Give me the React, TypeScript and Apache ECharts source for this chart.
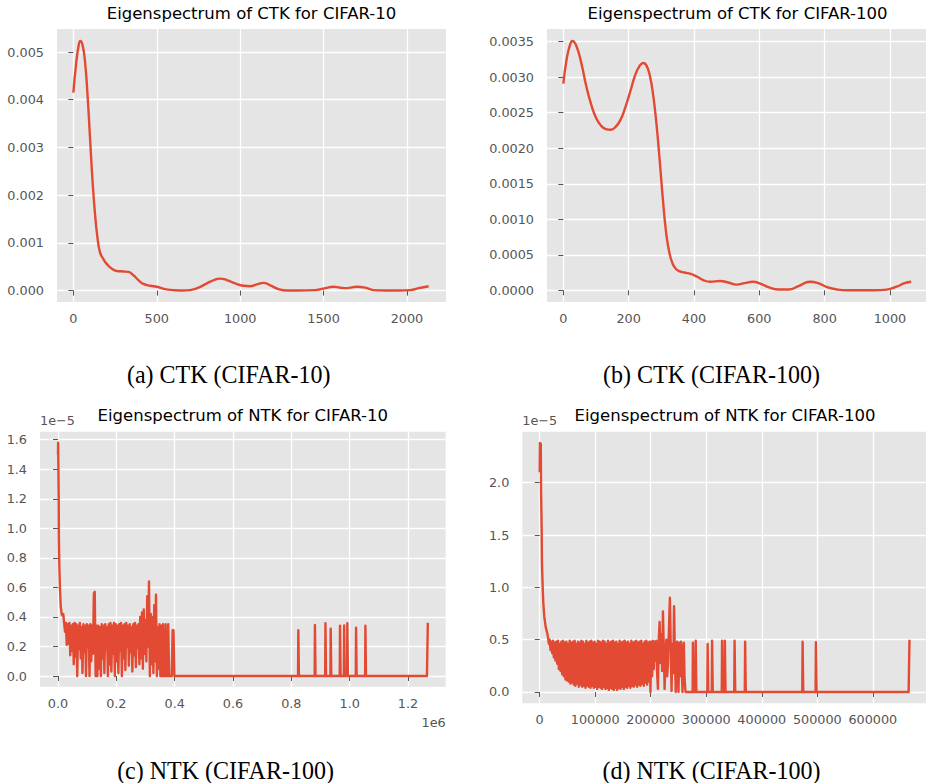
import React, { useEffect, useRef } from "react";
import * as echarts from "echarts";

// ---------- data ----------
const CTK10: number[][] = [
  [0, 0.00415], [15, 0.0047], [30, 0.0051], [42, 0.00523], [55, 0.00515], [70, 0.0048],
  [85, 0.0041], [100, 0.0032], [115, 0.0023], [130, 0.0016], [145, 0.0011], [160, 0.0008],
  [180, 0.00066], [200, 0.00056], [230, 0.00046], [260, 0.00041], [300, 0.0004], [330, 0.00039],
  [360, 0.00032], [390, 0.00022], [420, 0.00014], [460, 0.0001], [500, 0.00008], [550, 0.00003],
  [600, 0.00001], [650, 0], [700, 0.00001], [750, 0.00006], [800, 0.00015], [850, 0.00023],
  [880, 0.00025], [920, 0.00022], [970, 0.00015], [1020, 0.0001], [1060, 0.00009], [1100, 0.00013],
  [1140, 0.00016], [1180, 0.00011], [1230, 0.00003], [1280, 0], [1350, 0], [1450, 0.00001],
  [1510, 0.00005], [1560, 0.00008], [1600, 0.00006], [1640, 0.00005], [1700, 0.00008], [1750, 0.00006],
  [1800, 0.00001], [1870, 0], [1950, 0], [2020, 0.00001], [2070, 0.00005], [2130, 0.00009],
];

const CTK100: number[][] = [
  [0, 0.00291], [10, 0.00325], [20, 0.00345], [28, 0.00351], [40, 0.00344], [55, 0.0032],
  [70, 0.00288], [85, 0.00262], [100, 0.00243], [115, 0.00232], [130, 0.00227], [145, 0.00226],
  [160, 0.0023], [175, 0.0024], [190, 0.00258], [205, 0.0028], [220, 0.00303], [235, 0.00317],
  [245, 0.0032], [255, 0.00316], [265, 0.00302], [275, 0.00275], [285, 0.00235], [295, 0.00183],
  [305, 0.00127], [315, 0.0008], [325, 0.00052], [335, 0.00037], [345, 0.0003], [355, 0.00027],
  [370, 0.00025], [390, 0.00023], [410, 0.00019], [430, 0.00014], [450, 0.00012], [480, 0.00013],
  [505, 0.00011], [530, 0.00008], [555, 0.0001], [580, 0.00012], [605, 0.00009], [630, 0.00004],
  [660, 0.00001], [690, 0.00001], [720, 0.00006], [755, 0.00012], [780, 0.0001], [810, 0.00004],
  [840, 0.00001], [870, 0], [950, 0], [990, 0.00001], [1020, 0.00005], [1045, 0.0001], [1065, 0.00012],
];

// NTK CIFAR-10: x in units of 1e6, y in units of 1e-5
const NTK10_HEAD: number[][] = [
  [0, 1.5], [0.0005, 1.58], [0.002, 1.58], [0.0025, 1.2], [0.003, 0.95], [0.0045, 0.75],
  [0.007, 0.58], [0.0095, 0.47], [0.0125, 0.42], [0.015, 0.41], [0.018, 0.42], [0.021, 0.36],
];
const NTK10_BAND_START = 0.024;
const NTK10_BAND_STEP = 0.003;
const NTK10_BAND: number[] = [
  0.30, 0.36, 0.21, 0.35, 0.22, 0.36, 0.14, 0.34, 0.17, 0.35,
  0.08, 0.36, 0.13, 0.35, 0.00, 0.34, 0.18, 0.36, 0.12, 0.33,
  0.02, 0.35, 0.16, 0.34, 0.00, 0.35, 0.20, 0.34, 0.00, 0.35,
  0.10, 0.34, 0.15, 0.56, 0.57, 0.00, 0.34, 0.00, 0.34, 0.05,
  0.33, 0.00, 0.35, 0.12, 0.34, 0.02, 0.35, 0.18, 0.33, 0.00,
  0.35, 0.08, 0.36, 0.03, 0.34, 0.15, 0.36, 0.00, 0.35, 0.10,
  0.34, 0.02, 0.35, 0.17, 0.36, 0.00, 0.34, 0.12, 0.35, 0.04,
  0.36, 0.20, 0.34, 0.07, 0.35, 0.16, 0.33, 0.03, 0.35, 0.14,
  0.36, 0.06, 0.34, 0.19, 0.35, 0.08, 0.40, 0.12, 0.43, 0.05,
  0.45, 0.15, 0.38, 0.10, 0.54, 0.20, 0.64, 0.00, 0.42, 0.08,
  0.40, 0.02, 0.48, 0.10, 0.55, 0.00, 0.33, 0.05, 0.35, 0.00,
  0.34, 0.00, 0.35, 0.00, 0.00, 0.35, 0.00, 0.00, 0.35, 0.00,
  0.00, 0.00, 0.00, 0.31, 0.31, 0.00,
];
const NTK10_PULSES: number[][] = [
  [0.824, 0.31], [0.881, 0.345], [0.917, 0.357], [0.935, 0.32], [0.967, 0.34],
  [0.981, 0.343], [0.992, 0.357], [1.022, 0.327], [1.054, 0.34],
];
const NTK10_TAIL: number[][] = [[1.265, 0], [1.268, 0.36]];

// NTK CIFAR-100: x raw, y in units of 1e-5
const NTK100_HEAD: number[][] = [
  [0, 2.1], [500, 2.38], [2000, 2.37], [2500, 1.9], [3600, 1.55], [4100, 1.23], [5400, 1.0],
  [6500, 0.85], [8300, 0.72], [10800, 0.62], [13700, 0.56],
];
const NTK100_BAND_START = 15000;
const NTK100_BAND_STEP = 1500;
const NTK100_BAND: number[] = [
  0.52, 0.46, 0.50, 0.40, 0.48, 0.37, 0.49, 0.33, 0.47, 0.30, 0.48, 0.27, 0.49, 0.22, 0.46, 0.20, 0.48, 0.17, 0.49, 0.15,
  0.47, 0.12, 0.48, 0.11, 0.46, 0.10, 0.49, 0.08, 0.47, 0.09, 0.48, 0.07, 0.49, 0.06, 0.46, 0.08, 0.48, 0.05, 0.47, 0.07,
  0.49, 0.05, 0.48, 0.06, 0.46, 0.04, 0.49, 0.06, 0.47, 0.05, 0.48, 0.04, 0.49, 0.06, 0.47, 0.04, 0.48, 0.05, 0.46, 0.03,
  0.49, 0.05, 0.48, 0.04, 0.47, 0.03, 0.49, 0.05, 0.48, 0.03, 0.46, 0.04, 0.49, 0.02, 0.47, 0.04, 0.48, 0.03, 0.49, 0.02,
  0.47, 0.04, 0.48, 0.02, 0.46, 0.04, 0.49, 0.03, 0.47, 0.05, 0.48, 0.03, 0.49, 0.05, 0.47, 0.04, 0.48, 0.06, 0.46, 0.04,
  0.49, 0.06, 0.47, 0.05, 0.48, 0.07, 0.49, 0.05, 0.47, 0.07, 0.48, 0.06, 0.49, 0.08, 0.46, 0.06, 0.48, 0.09, 0.49, 0.07,
  0.47, 0.10, 0.48, 0.00,
];
const NTK100_MID: number[][] = [
  [201000, 0.48], [202500, 0.15], [204000, 0.49], [205500, 0.22], [207000, 0.48], [208500, 0.3],
  [210000, 0.49], [211500, 0.18], [213000, 0.03], [214500, 0.5], [216000, 0.67], [217500, 0.28],
  [219000, 0.55], [220500, 0.2], [222000, 0.77], [223500, 0.4], [225000, 0.03], [226500, 0.35],
  [228000, 0.5], [229500, 0.15], [231000, 0.26], [232500, 0.55], [234500, 0.9], [236000, 0.45],
  [237500, 0.01], [239000, 0.46], [240500, 0.18], [242000, 0.82], [243500, 0.35], [245000, 0.0],
  [246500, 0.42], [247500, 0.48], [249000, 0.12], [250000, 0.0], [251500, 0.47], [253000, 0.15],
  [254500, 0.48], [256000, 0.22], [257200, 0.0], [258500, 0.42], [259600, 0.47], [261000, 0.12],
  [262600, 0.0],
];
const NTK100_PULSES: number[][] = [
  [276000, 0.47], [281000, 0.49], [302500, 0.46], [310500, 0.49], [328500, 0.49], [333500, 0.49],
  [351000, 0.49], [370000, 0.48], [473500, 0.48], [497500, 0.475],
];
const NTK100_TAIL: number[][] = [[664500, 0], [666000, 0.5]];

// ticks
const CTK10_XTICKS = [0, 500, 1000, 1500, 2000];
const CTK10_YTICKS = [0, 0.001, 0.002, 0.003, 0.004, 0.005];
const CTK100_XTICKS = [0, 200, 400, 600, 800, 1000];
const CTK100_YTICKS = [0, 0.0005, 0.001, 0.0015, 0.002, 0.0025, 0.003, 0.0035];
const NTK10_XTICKS = [0, 0.2, 0.4, 0.6, 0.8, 1.0, 1.2];
const NTK10_YTICKS = [0, 0.2, 0.4, 0.6, 0.8, 1.0, 1.2, 1.4, 1.6];
const NTK100_XTICKS = [0, 100000, 200000, 300000, 400000, 500000, 600000];
const NTK100_YTICKS = [0, 0.5, 1.0, 1.5, 2.0];

const TITLES = [
  "Eigenspectrum of CTK for CIFAR-10",
  "Eigenspectrum of CTK for CIFAR-100",
  "Eigenspectrum of NTK for CIFAR-10",
  "Eigenspectrum of NTK for CIFAR-100",
];
const CAPTIONS = ["(a) CTK (CIFAR-10)", "(b) CTK (CIFAR-100)", "(c) NTK (CIFAR-100)", "(d) NTK (CIFAR-100)"];

// ---------- helpers ----------
function buildNtk(
  head: number[][], start: number, step: number, band: number[],
  mid: number[][], pulses: number[][], w: number, tail: number[][]
): number[][] {
  const out: number[][] = head.map((p) => p.slice());
  band.forEach((v, i) => out.push([start + i * step, v]));
  mid.forEach((p) => out.push(p.slice()));
  pulses.forEach(([x, h]) => {
    out.push([x - w, 0], [x, h], [x + w, h], [x + 2 * w, 0]);
  });
  tail.forEach((p) => out.push(p.slice()));
  return out;
}

const RED = "#E24A33";
const SANS = "DejaVu Sans";
const SERIF = "Liberation Serif";
const TICK_COLOR = "#555555";

function valueAxis(
  gridIndex: number, min: number, max: number, ticks: number[],
  fmt: (v: number) => string, isY: boolean
) {
  return {
    type: "value",
    gridIndex,
    min,
    max,
    offset: isY ? 2 : 0,
    axisLine: { show: false },
    axisTick: {
      show: true,
      inside: false,
      length: 5,
      customValues: ticks,
      lineStyle: { color: TICK_COLOR, width: 1 },
    },
    axisLabel: {
      show: true,
      customValues: ticks,
      formatter: (v: number) => fmt(v),
      color: TICK_COLOR,
      fontFamily: SANS,
      fontSize: 12.8,
      margin: isY ? 11 : 10,
      hideOverlap: false,
    },
    splitLine: { show: true, lineStyle: { color: "#FFFFFF", width: 1.3 } },
  };
}

function text(
  x: number, y: number, t: string, font: string, size: number, align: string, color: string, scaleY = 1
) {
  return {
    type: "text",
    x,
    y,
    scaleY,
    silent: true,
    style: {
      text: t,
      fill: color,
      fontFamily: font,
      fontSize: size,
      align,
      textAlign: align,
      verticalAlign: "middle",
      textVerticalAlign: "middle",
    },
  };
}

function buildOption() {
  const ntk10 = buildNtk(NTK10_HEAD, NTK10_BAND_START, NTK10_BAND_STEP, NTK10_BAND, [], NTK10_PULSES, 0.001, NTK10_TAIL);
  const ntk100 = buildNtk(NTK100_HEAD, NTK100_BAND_START, NTK100_BAND_STEP, NTK100_BAND, NTK100_MID, NTK100_PULSES, 600, NTK100_TAIL);

  const gridBase = { show: true, backgroundColor: "#E5E5E5", borderWidth: 0, containLabel: false, outerBoundsMode: "none" };
  const grids = [
    { ...gridBase, left: 57, top: 29, width: 389, height: 273 },
    { ...gridBase, left: 547, top: 29, width: 381.5, height: 273 },
    { ...gridBase, left: 40, top: 431.7, width: 405.7, height: 255 },
    { ...gridBase, left: 522.3, top: 431.7, width: 406, height: 271.6 },
  ];

  const xAxes = [
    valueAxis(0, -98, 2234, CTK10_XTICKS, (v) => String(v), false),
    valueAxis(1, -50, 1118, CTK100_XTICKS, (v) => String(v), false),
    valueAxis(2, -0.0617, 1.3293, NTK10_XTICKS, (v) => v.toFixed(1), false),
    valueAxis(3, -31320, 699900, NTK100_XTICKS, (v) => String(v), false),
  ];
  const yAxes = [
    valueAxis(0, -0.00024, 0.005483, CTK10_YTICKS, (v) => v.toFixed(3), true),
    valueAxis(1, -0.000165, 0.003679, CTK100_YTICKS, (v) => v.toFixed(4), true),
    valueAxis(2, -0.0724, 1.654, NTK10_YTICKS, (v) => v.toFixed(1), true),
    valueAxis(3, -0.108, 2.487, NTK100_YTICKS, (v) => v.toFixed(1), true),
  ];

  const lineBase = {
    type: "line",
    showSymbol: false,
    symbol: "none",
    lineStyle: { color: RED, width: 2.4, join: "round" },
    itemStyle: { color: RED },
    silent: true,
  };

  const series = [
    { ...lineBase, xAxisIndex: 0, yAxisIndex: 0, data: CTK10, smooth: 0.5 },
    { ...lineBase, xAxisIndex: 1, yAxisIndex: 1, data: CTK100, smooth: 0.5 },
    { ...lineBase, xAxisIndex: 2, yAxisIndex: 2, data: ntk10 },
    { ...lineBase, xAxisIndex: 3, yAxisIndex: 3, data: ntk100 },
  ];

  const elements = [
    text(251.5, 13.3, TITLES[0], SANS, 16.5, "center", "#000000"),
    text(737.5, 13.3, TITLES[1], SANS, 16.5, "center", "#000000"),
    text(242.8, 415, TITLES[2], SANS, 16.5, "center", "#000000"),
    text(725, 415, TITLES[3], SANS, 16.5, "center", "#000000"),
    text(40, 420.7, "1e\u22125", SANS, 12.8, "left", TICK_COLOR),
    text(522.3, 420.7, "1e\u22125", SANS, 12.8, "left", TICK_COLOR),
    text(445.7, 722.5, "1e6", SANS, 12.8, "right", TICK_COLOR),
    text(228.7, 374, CAPTIONS[0], SERIF, 24, "center", "#000000", 1.06),
    text(711.5, 374, CAPTIONS[1], SERIF, 24, "center", "#000000", 1.06),
    text(225.5, 770, CAPTIONS[2], SERIF, 24, "center", "#000000", 1.06),
    text(711.5, 770, CAPTIONS[3], SERIF, 24, "center", "#000000", 1.06),
  ];

  return {
    animation: false,
    backgroundColor: "#FFFFFF",
    grid: grids,
    xAxis: xAxes,
    yAxis: yAxes,
    series,
    graphic: { elements },
  };
}

export default function App() {
  const ref = useRef<HTMLDivElement>(null);
  useEffect(() => {
    if (!ref.current) return;
    const chart = echarts.init(ref.current, undefined, { renderer: "svg", width: 926, height: 783 });
    chart.setOption(buildOption() as any);
    return () => {
      chart.dispose();
    };
  }, []);
  return (
    <div
      ref={ref}
      style={{ position: "absolute", left: 0, top: 0, width: 926, height: 783, background: "#FFFFFF" }}
    />
  );
}
